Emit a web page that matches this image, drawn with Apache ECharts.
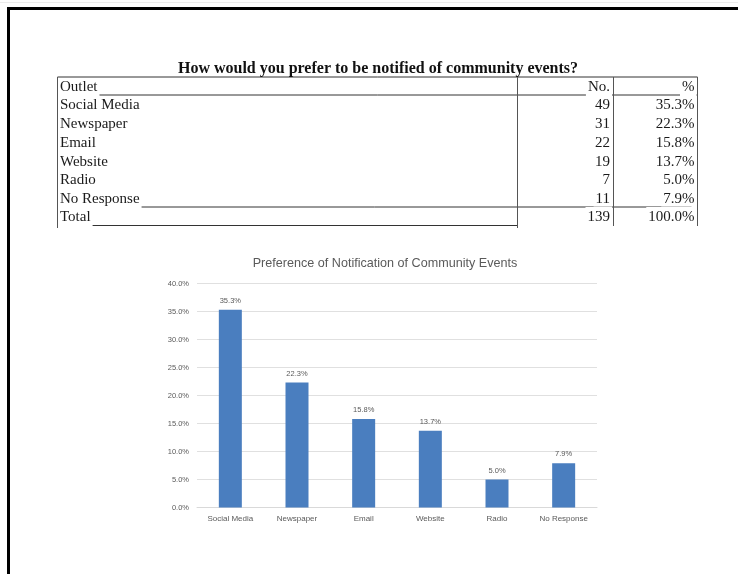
<!DOCTYPE html>
<html>
<head>
<meta charset="utf-8">
<title>Preference of Notification of Community Events</title>
<script src="https://cdn.jsdelivr.net/npm/echarts@6/dist/echarts.min.js"></script>
<style>
  html, body { margin: 0; padding: 0; background: #ffffff; }
  #chart { width: 738px; height: 574px; }
</style>
</head>
<body>
<div id="chart"></div>
<script>
// Survey responses: how residents prefer to hear about community events
const outlets = ['Social Media', 'Newspaper', 'Email', 'Website', 'Radio', 'No Response'];
const counts = [49, 31, 22, 19, 7, 11];
const percents = [35.3, 22.3, 15.8, 13.7, 5.0, 7.9];
const totalLabel = 'Total';
const totalCount = 139;
const totalPercent = 100.0;

const tableTitle = 'How would you prefer to be notified of community events?';
const tableHeaders = ['Outlet', 'No.', '%'];
const chartTitle = 'Preference of Notification of Community Events';

// Value axis ticks (percent)
const yMin = 0, yMax = 40, yStep = 5;

const chart = echarts.init(document.getElementById('chart'), null, { renderer: 'canvas' });

// ---- table layout ----
const tLeft = 57.5, tRight = 697.5, colA = 517.5, colB = 613.5;
const tTop = 77, headerMid = 87, rowStart = 105.5, rowH = 18.7, totalMid = 217.5;
const tableFont = '15px "Liberation Serif", "DejaVu Serif", serif';
const ink = '#1a1a1a';
const lineColor = '#333333';

function fmtPct(v) { return v.toFixed(1) + '%'; }

// cell text; its white box breaks the rules beneath it like an underline gap
function cellText(text, x, y, align, pad) {
  return {
    type: 'text', z: 20, silent: true,
    style: {
      text: text, x: x, y: y, font: tableFont, fill: ink,
      align: align, verticalAlign: 'middle',
      backgroundColor: '#ffffff', padding: pad || [0, 2, 0, 2]
    }
  };
}
function hLine(x1, x2, y) {
  return { type: 'line', z: 10, silent: true,
    shape: { x1: x1, y1: y, x2: x2, y2: y },
    style: { stroke: lineColor, lineWidth: 1 } };
}
function vLine(x, y1, y2) {
  return { type: 'line', z: 30, silent: true,
    shape: { x1: x, y1: y1, x2: x, y2: y2 },
    style: { stroke: '#555555', lineWidth: 1 } };
}

const graphics = [];

// page frame
graphics.push({ type: 'line', z: 40, silent: true, shape: { x1: 7, y1: 8.5, x2: 738, y2: 8.5 }, style: { stroke: '#000', lineWidth: 3 } });
graphics.push({ type: 'line', z: 40, silent: true, shape: { x1: 8.5, y1: 7, x2: 8.5, y2: 574 }, style: { stroke: '#000', lineWidth: 3 } });
graphics.push({ type: 'line', z: 40, silent: true, shape: { x1: 0, y1: 2.5, x2: 738, y2: 2.5 }, style: { stroke: '#ececec', lineWidth: 1 } });

// table title
graphics.push({
  type: 'text', z: 20, silent: true,
  style: { text: tableTitle, x: 378, y: 69, align: 'center', verticalAlign: 'middle',
    font: 'bold 16px "Liberation Serif", "DejaVu Serif", serif', fill: '#111' }
});

// horizontal rules
graphics.push(hLine(tLeft, tRight, tTop));
graphics.push(hLine(tLeft, tRight, 95));
graphics.push(hLine(tLeft, tRight - 6, 207));
graphics.push(hLine(tLeft, colA, 225.5));

// header
const headPad = [0, 2, 3, 2];
graphics.push(cellText(tableHeaders[0], tLeft + 0.5, headerMid, 'left', headPad));
graphics.push(cellText(tableHeaders[1], colB - 1.5, headerMid, 'right', headPad));
graphics.push(cellText(tableHeaders[2], tRight - 1, headerMid, 'right', headPad));

// body rows
outlets.forEach(function (name, i) {
  const y = rowStart + i * rowH;
  const pad = i === outlets.length - 1 ? [0, 2, 3, 2] : [0, 2, 0, 2];
  graphics.push(cellText(name, tLeft + 0.5, y, 'left', pad));
  graphics.push(cellText(String(counts[i]), colB - 1.5, y, 'right'));
  graphics.push(cellText(fmtPct(percents[i]), tRight - 1, y, 'right'));
});

// total row
const totPad = [3, 2, 3, 2];
graphics.push(cellText(totalLabel, tLeft + 0.5, totalMid, 'left', totPad));
graphics.push(cellText(String(totalCount), colB - 1.5, totalMid, 'right', totPad));
graphics.push(cellText(fmtPct(totalPercent), tRight - 1, totalMid, 'right', totPad));

// column rules
graphics.push(vLine(tLeft, tTop, 228));
graphics.push(vLine(colA, tTop, 228));
graphics.push(vLine(colB, tTop, 226));
graphics.push(vLine(tRight, tTop, 226));

// chart title
graphics.push({
  type: 'text', z: 20, silent: true,
  style: { text: chartTitle, x: 385, y: 264, align: 'center', verticalAlign: 'middle',
    font: '12.6px "Liberation Sans", "DejaVu Sans", sans-serif', fill: '#5a5a5a' }
});

const smallFont = '"Liberation Sans", "DejaVu Sans", sans-serif';

chart.setOption({
  animation: false,
  backgroundColor: '#ffffff',
  grid: { left: 197, top: 283.5, width: 400, height: 224, containLabel: false },
  xAxis: {
    type: 'category',
    data: outlets,
    axisLine: { show: true, lineStyle: { color: '#d9d9d9', width: 1 } },
    axisTick: { show: false },
    axisLabel: { interval: 0, margin: 7, fontFamily: smallFont, fontSize: 8, color: '#5a5a5a' },
    splitLine: { show: false }
  },
  yAxis: {
    type: 'value',
    min: yMin, max: yMax, interval: yStep,
    axisLine: { show: false },
    axisTick: { show: false },
    axisLabel: {
      margin: 8, fontFamily: smallFont, fontSize: 7.5, color: '#5a5a5a',
      formatter: function (v) { return v.toFixed(1) + '%'; }
    },
    splitLine: { lineStyle: { color: '#e0e0e0', width: 1 } }
  },
  series: [{
    type: 'bar',
    data: percents,
    barWidth: 23,
    itemStyle: { color: '#4a7ebf' },
    label: {
      show: true, position: 'top', distance: 5,
      fontFamily: smallFont, fontSize: 7.5, color: '#5a5a5a',
      formatter: function (p) { return p.value.toFixed(1) + '%'; }
    }
  }],
  graphic: { elements: graphics }
});
</script>
</body>
</html>
